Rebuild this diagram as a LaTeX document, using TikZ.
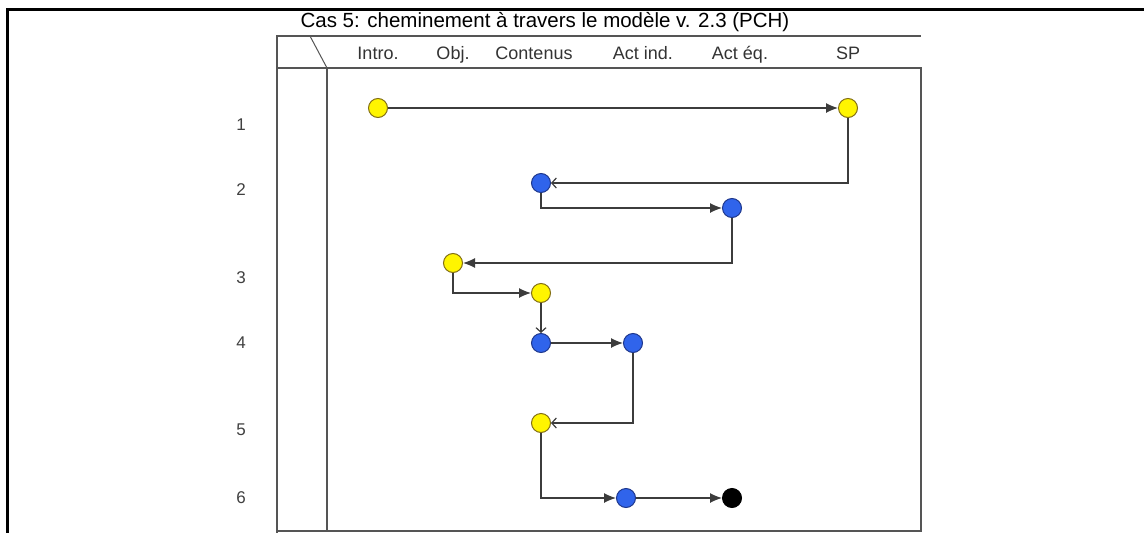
\documentclass[tikz,border=0pt]{standalone}
\usepackage{fontspec}
\setmainfont{Liberation Sans}
\usepackage{xcolor}
\usetikzlibrary{arrows.meta,positioning}

\definecolor{jaune}{RGB}{255,245,0}
\definecolor{bordjaune}{RGB}{130,110,20}
\definecolor{bleu}{RGB}{48,100,235}
\definecolor{bordbleu}{RGB}{30,55,140}
\definecolor{trait}{RGB}{60,60,60}
\definecolor{grille}{RGB}{85,85,85}

\begin{document}
\begin{tikzpicture}[
    x=1pt, y=-1pt,
    etape/.style={circle, draw, minimum size=19pt, inner sep=0pt, line width=1pt},
    jaunep/.style={etape, fill=jaune, draw=bordjaune},
    bleup/.style={etape, fill=bleu, draw=bordbleu},
    finp/.style={etape, fill=black, draw=black},
    entete/.style={anchor=base, font=\fontsize{18}{18}\selectfont, text=black!80},
    rang/.style={font=\fontsize{17}{17}\selectfont, text=black!75},
    fleche/.style={-{Latex[length=12pt,width=10pt]}, line width=1.2pt, draw=trait},
    retour/.style={-{Straight Barb[length=4.5pt,width=10pt]}, line width=1.2pt, draw=trait}
]
\useasboundingbox[fill=white] (0,0) rectangle (1144,533);

% cadre exterieur
\draw[line width=3pt] (7,533) -- (7,9) -- (1144,9);

% grille du tableau
\draw[grille, line width=1.5pt] (277,533) -- (277,36) -- (921,36);
\draw[grille, line width=1.5pt] (277,68) -- (921,68) -- (921,531) -- (277,531);
\draw[grille, line width=1.5pt] (327,68) -- (327,531);
\draw[grille, line width=1pt] (310,36) -- (327,68);

\node[anchor=base, font=\fontsize{20.5}{20.5}\selectfont] (titre) at (545,27) {Cas 5: cheminement à travers le modèle v. 2.3 (PCH)};

% colonnes
\node[entete] (h-intro) at (378,59) {Intro.};
\node[entete] (h-obj) at (453,59) {Obj.};
\node[entete] (h-cont) at (534,59) {Contenus};
\node[entete] (h-ind) at (643,59) {Act ind.};
\node[entete] (h-eq) at (740,59) {Act éq.};
\node[entete] (h-sp) at (848,59) {SP};

% rangees
\node[rang] (r1) at (241,125) {1};
\node[rang] (r2) at (241,190) {2};
\node[rang] (r3) at (241,278) {3};
\node[rang] (r4) at (241,343) {4};
\node[rang] (r5) at (241,430) {5};
\node[rang] (r6) at (241,498) {6};

% etapes
\node[jaunep] (i1) at (378,108) {};
\node[jaunep] (sp1) at (848,108) {};
\node[bleup] (c2) at (541,183) {};
\node[bleup] (ai2) at (732,208) {};
\node[jaunep] (o3) at (453,263) {};
\node[jaunep] (c3) at (541,293) {};
\node[bleup] (c4) at (541,343) {};
\node[bleup] (ai4) at (633,343) {};
\node[jaunep] (c5) at (541,423) {};
\node[bleup] (ai6) at (626,498) {};
\node[finp] (ae6) at (732,498) {};

% cheminement
\draw[fleche] (i1) -- (sp1);
\draw[retour] (sp1) |- (c2);
\draw[fleche] (c2) |- (ai2);
\draw[fleche] (ai2) |- (o3);
\draw[fleche] (o3) |- (c3);
\draw[retour] (c3) -- (c4);
\draw[fleche] (c4) -- (ai4);
\draw[retour] (ai4) |- (c5);
\draw[fleche] (c5) |- (ai6);
\draw[fleche] (ai6) -- (ae6);
\end{tikzpicture}
\end{document}
